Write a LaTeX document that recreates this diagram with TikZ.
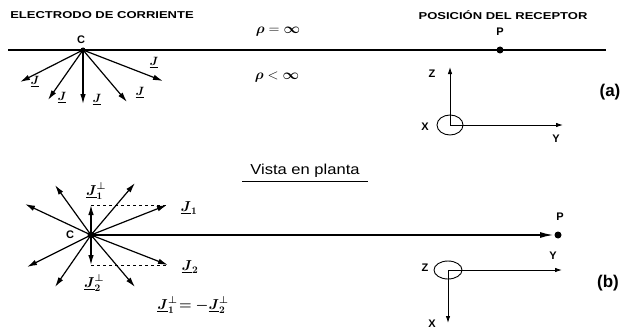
\documentclass[tikz,border=0pt]{standalone}
\usepackage{amsmath,bm}
\usepackage{fontspec}
\setmainfont{Liberation Sans}
\usetikzlibrary{arrows.meta}

\tikzset{
  vec/.style={-{Latex[length=10pt,width=5.5pt]}, line width=1.2pt},
  axis/.style={-{Latex[length=7pt,width=4.5pt]}, line width=0.9pt},
  lbl/.style={font=\bfseries\fontsize{11}{13}\selectfont, inner sep=0pt},
}
\newcommand{\heading}[1]{\scalebox{1.3}[1]{\bfseries\fontsize{10}{12}\selectfont #1}}
\newcommand{\vJ}{\underline{\bm{J}}}

\begin{document}
\begin{tikzpicture}[x=1pt, y=-1pt]
  \useasboundingbox (0,0) rectangle (626,329);

  % Titles
  \node[lbl] (elec) at (102,15) {\heading{ELECTRODO DE CORRIENTE}};
  \node[lbl] (recep) at (503,15) {\heading{POSICIÓN DEL RECEPTOR}};

  % Surface
  \coordinate (sL) at (8,50);
  \coordinate (sR) at (606,50);
  \draw[line width=1.8pt] (sL) -- (sR);
  \node (rinf) at (278,32) {\Large$\bm{\rho}=\bm{\infty}$};
  \node (rfin) at (277,77) {\Large$\bm{\rho}<\bm{\infty}$};

  % Electrode C and receiver P
  \coordinate (C) at (83,50);
  \coordinate (P) at (500,50);
  \fill (C) circle (2.5pt);
  \node[lbl] (Clbl) at (81,40) {C};
  \fill (P) circle (3.5pt);
  \node[lbl] (Plbl) at (500,32) {P};

  % Current lines
  \foreach \i/\tx/\ty/\lx/\ly in {1/20/82/35/82, 2/48/100/62/98, 3/83/104/97/100,
                                  4/127/102/140/93, 5/163/81/154/63} {
    \coordinate (j\i) at (\tx,\ty);
    \draw[vec] (C) -- (j\i);
    \node[font=\large] (jl\i) at (\lx,\ly) {$\vJ$};
  }

  % Axes (a)
  \coordinate (Oa) at (450,125);
  \coordinate (Za) at (450,67);
  \coordinate (Ya) at (563,125);
  \draw[line width=0.9pt] (Oa) ellipse (13 and 10);
  \draw[axis] (Oa) -- (Za);
  \draw[axis] (Oa) -- (Ya);
  \node[lbl] (zla) at (432,74) {Z};
  \node[lbl] (xla) at (425,127) {X};
  \node[lbl] (yla) at (556,139) {Y};
  \node[font=\bfseries\fontsize{17}{20}\selectfont] (a) at (610,92) {(a)};

  % Plan view
  \node[font=\Large] (vista) at (305,171) {\scalebox{1.15}[1]{Vista en planta}};
  \draw[line width=0.8pt] (242,181) -- (368,181);

  \coordinate (C2) at (91,235);
  \coordinate (P2) at (558,235);
  \node[lbl] (C2lbl) at (70,235) {C};
  \foreach \i/\tx/\ty in {1/25/204, 2/27/267, 3/55/185, 4/135/183,
                          5/55/287, 6/135/287} {
    \coordinate (s\i) at (\tx,\ty);
    \draw[vec] (C2) -- (s\i);
  }
  \coordinate (J1) at (167,205);
  \coordinate (J2) at (168,265);
  \coordinate (J1p) at (91,205);
  \coordinate (J2p) at (91,265);
  \draw[vec] (C2) -- (J1);
  \draw[vec] (C2) -- (J2);
  \draw[vec] (C2) -- (J1p);
  \draw[vec] (C2) -- (J2p);
  \draw[dashed, line width=0.9pt] (J1p) -- (J1);
  \draw[dashed, line width=0.9pt] (J2p) -- (J2);
  \fill (C2) circle (3.5pt);
  \draw[line width=1.8pt, -{Latex[length=14pt,width=6pt]}] (C2) -- ([xshift=-4pt]P2);
  \fill (P2) circle (3.5pt);
  \node[lbl] (P2lbl) at (560,217) {P};

  \node[font=\Large] (lJ1p) at (96,191) {$\vJ_{\bm{1}}^{\bm{\perp}}$};
  \node[font=\Large] (lJ1) at (189,208) {$\vJ_{\bm{1}}$};
  \node[font=\Large] (lJ2) at (190,267) {$\vJ_{\bm{2}}$};
  \node[font=\Large] (lJ2p) at (94,283) {$\vJ_{\bm{2}}^{\bm{\perp}}$};
  \node[font=\Large] (rel) at (193,305) {$\vJ_{\bm{1}}^{\bm{\perp}}\!\bm{=-}\vJ_{\bm{2}}^{\bm{\perp}}$};

  % Axes (b)
  \coordinate (Ob) at (448,270);
  \coordinate (Yb) at (562,270);
  \coordinate (Xb) at (448,323);
  \draw[line width=0.9pt] (Ob) ellipse (14 and 9);
  \draw[axis] (Ob) -- (Yb);
  \draw[axis] (Ob) -- (Xb);
  \node[lbl] (zlb) at (425,268) {Z};
  \node[lbl] (ylb) at (553,256) {Y};
  \node[lbl] (xlb) at (432,324) {X};
  \node[font=\bfseries\fontsize{17}{20}\selectfont] (b) at (608,283) {(b)};
\end{tikzpicture}
\end{document}
